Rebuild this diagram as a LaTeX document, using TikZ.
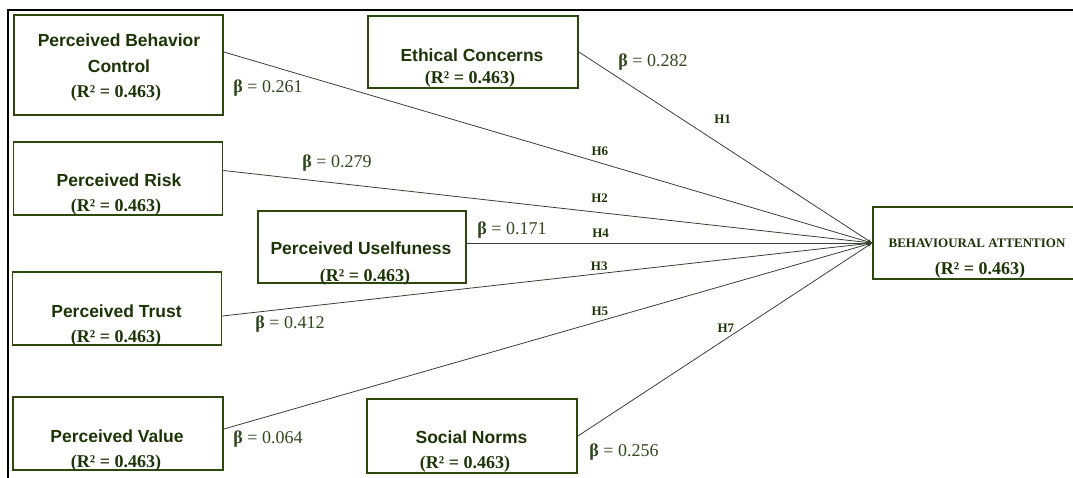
\documentclass[tikz,border=0pt]{standalone}
\usepackage{fontspec}
\setmainfont{Liberation Serif}
\setsansfont{Liberation Sans}
\usepackage{tikz}
\usetikzlibrary{arrows.meta}
\usetikzlibrary{shapes,arrows}

\definecolor{boxgreen}{RGB}{45,72,12}
\definecolor{txtgreen}{RGB}{28,52,6}
\definecolor{lblgreen}{RGB}{48,72,30}
\definecolor{linegray}{RGB}{55,65,50}

\begin{document}
\begin{tikzpicture}[x=1pt,y=-1pt,draw=black!100]
 	\def \rsq{(R² = 0.463)}
 	\def \bval#1{{\bfseries β} = #1}
 	\tikzstyle{c-box}=[rectangle,draw=boxgreen,line width=1.8pt,inner sep=0pt,minimum width=209pt,minimum height=73pt]
 	\tikzstyle{c-name}=[font=\sffamily\bfseries\fontsize{17.5}{20}\selectfont,text=txtgreen,anchor=base,inner sep=0pt]
 	\tikzstyle{c-rsq}=[font=\bfseries\fontsize{18}{20}\selectfont,text=txtgreen,anchor=base,inner sep=0pt]
 	\tikzstyle{b-lab}=[font=\fontsize{18}{20}\selectfont,text=lblgreen,inner sep=0pt]
 	\tikzstyle{h-lab}=[font=\bfseries\fontsize{13}{14}\selectfont,text=txtgreen,inner sep=0pt]
 	\tikzstyle{link}=[color=linegray,line width=0.8pt,-{Stealth[length=5pt,width=3pt]}]

 	\useasboundingbox (0,0) rectangle (1073,478);
 	% frame
 	\draw[line width=2pt] (8,478) -- (8,10) -- (1073,10);

 	% source boxes
 	\node[c-box,minimum height=100pt] 	(pbc)	at (118.5,65)	{};
 	\node[c-name] 	(pbc-n1)	at (119,47)		{Perceived Behavior};
 	\node[c-name] 	(pbc-n2)	at (119,73)		{Control};
 	\node[c-rsq] 	(pbc-r)	at (116,98)		{\rsq};

 	\node[c-box,minimum width=210pt,minimum height=72pt] 	(ec)	at (473,52)	{};
 	\node[c-name] 	(ec-n)	at (472,62)		{Ethical Concerns};
 	\node[c-rsq] 	(ec-r)	at (470,84)		{\rsq};

 	\node[c-box] 	(pr)	at (118,178.5)	{};
 	\node[c-name] 	(pr-n)	at (119,187)	{Perceived Risk};
 	\node[c-rsq] 	(pr-r)	at (116,212)	{\rsq};

 	\node[c-box,minimum width=208pt,minimum height=72pt] 	(pu)	at (362,247)	{};
 	\node[c-name] 	(pu-n)	at (361,255)	{Perceived Uselfuness};
 	\node[c-rsq] 	(pu-r)	at (365,281)	{\rsq};

 	\node[c-box] 	(pt)	at (117,308.5)	{};
 	\node[c-name] 	(pt-n)	at (116.5,317)	{Perceived Trust};
 	\node[c-rsq] 	(pt-r)	at (116,342)	{\rsq};

 	\node[c-box,minimum width=210pt] 	(pv)	at (118,433.5)	{};
 	\node[c-name] 	(pv-n)	at (117,442)	{Perceived Value};
 	\node[c-rsq] 	(pv-r)	at (116,467)	{\rsq};

 	\node[c-box,minimum width=210pt,minimum height=74pt] 	(sn)	at (472,436)	{};
 	\node[c-name] 	(sn-n)	at (471.5,443)	{Social Norms};
 	\node[c-rsq] 	(sn-r)	at (465,468)	{\rsq};

 	% target box
 	\node[c-box,minimum width=203pt,minimum height=72pt] 	(ba)	at (974.5,243)	{};
 	\node[c-rsq,font=\bfseries\fontsize{13}{14}\selectfont] 	(ba-n)	at (977,248)	{BEHAVIOURAL ATTENTION};
 	\node[c-rsq] 	(ba-r)	at (980,275)	{\rsq};

 	% paths
 	\path[link]
 		([yshift=13pt]pbc.east)	edge	node[h-lab,pos=0.58,yshift=12pt]	{H6}	(ba.west)
 		(ec.east)	edge	node[h-lab,pos=0.49,yshift=26pt]	{H1}	(ba.west)
 		([yshift=8pt]pr.east)	edge	node[h-lab,pos=0.58,yshift=14pt]	{H2}	(ba.west)
 		([yshift=4pt]pu.east)	edge	node[h-lab,pos=0.33,yshift=9.5pt]	{H4}	(ba.west)
 		([yshift=-7.5pt]pt.east)	edge	node[h-lab,pos=0.58,yshift=7.5pt]	{H3}	(ba.west)
 		([yshift=4.5pt]pv.east)	edge	node[h-lab,pos=0.58,yshift=9.5pt]	{H5}	(ba.west)
 		(sn.east)	edge	node[h-lab,pos=0.503,yshift=11pt]	{H7}	(ba.west);

 	% coefficients
 	\node[b-lab] 	(pbc-b)	at (268,88)		{\bval{0.261}};
 	\node[b-lab] 	(ec-b)	at (653,62)		{\bval{0.282}};
 	\node[b-lab] 	(pr-b)	at (337,163)	{\bval{0.279}};
 	\node[b-lab] 	(pu-b)	at (512,230)	{\bval{0.171}};
 	\node[b-lab] 	(pt-b)	at (290,324)	{\bval{0.412}};
 	\node[b-lab] 	(pv-b)	at (268,439)	{\bval{0.064}};
 	\node[b-lab] 	(sn-b)	at (624,452)	{\bval{0.256}};
\end{tikzpicture}
\end{document}
